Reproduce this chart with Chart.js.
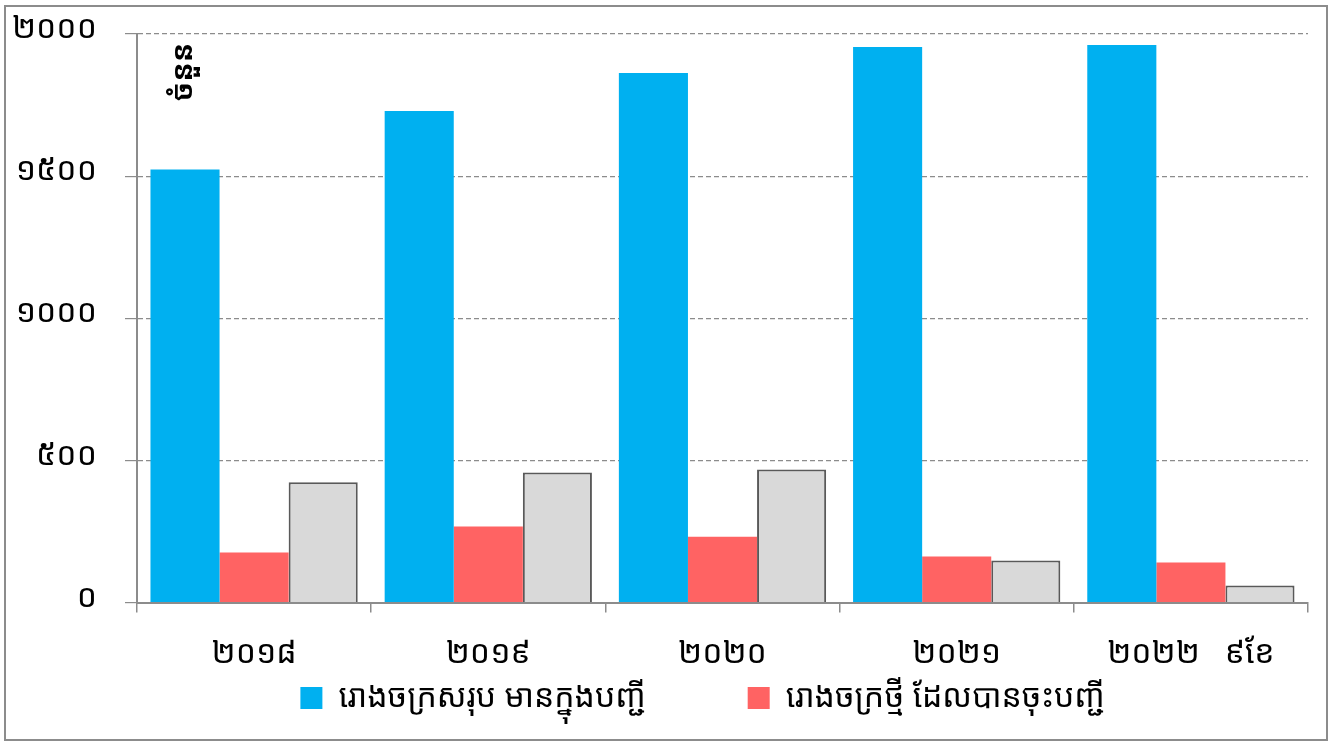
<!DOCTYPE html>
<html lang="km">
<head>
    <meta charset="UTF-8">
    <title>រោងចក្រ</title>
    <script src="https://cdn.jsdelivr.net/npm/chart.js"></script>
    <style>
        body { margin: 0; background: #fff; }
        .chart-container {
            position: relative;
            width: 1338px;
            height: 744px;
        }
        .frame {
            position: absolute;
            left: 4px; top: 5px; width: 1320px; height: 732px;
            border: 2px solid #8c8c8c;
            pointer-events: none;
        }
    </style>
</head>
<body>
    <div class="chart-container">
        <canvas id="factoryChart" width="1338" height="744"></canvas>
        <div class="frame"></div>
    </div>
    <script>
        const years = ['២០១៨', '២០១៩', '២០២០', '២០២១', '២០២២   ៩ខែ'];
        const totalRegistered = [1523, 1729, 1863, 1954, 1961];
        const newRegistered = [176, 268, 232, 162, 141];
        const thirdSeries = [423, 458, 468, 148, 60];
        const khmerDigits = ['០', '១', '២', '៣', '៤', '៥', '៦', '៧', '៨', '៩'];

        const KH_FONT = "'Khmer OS', 'Noto Sans Khmer', 'Noto Sans', sans-serif";

        function toKhmer(n) {
            return String(n).split('').map(d => khmerDigits[+d] ?? d).join('');
        }

        // vertical "ចំនួន" label in the top-left of the plot
        const unitLabel = {
            id: 'unitLabel',
            afterDraw(chart) {
                const c = chart.ctx;
                c.save();
                c.translate(chart.chartArea.left + 47, chart.chartArea.top + 38);
                c.rotate(-Math.PI / 2);
                c.font = "bold 29px " + KH_FONT;
                c.fillStyle = '#000';
                c.textAlign = 'center';
                c.textBaseline = 'middle';
                c.fillText('ចំនួន', 0, 0);
                c.restore();
            }
        };

        const ctx = document.getElementById('factoryChart').getContext('2d');
        new Chart(ctx, {
            type: 'bar',
            data: {
                labels: years,
                datasets: [{
                    label: 'រោងចក្រសរុប មានក្នុងបញ្ជី\u2003\u2003\u2003',
                    data: totalRegistered,
                    backgroundColor: '#00b0f0',
                    borderWidth: 0
                }, {
                    label: 'រោងចក្រថ្មី ដែលបានចុះបញ្ជី\u2003\u2003\u2003\u2003\u2003\u2003\u2006',
                    data: newRegistered,
                    backgroundColor: '#ff6363',
                    borderWidth: 0
                }, {
                    label: 'other',
                    data: thirdSeries,
                    backgroundColor: '#d9d9d9',
                    borderColor: '#595959',
                    borderWidth: 2
                }]
            },
            options: {
                responsive: false,
                animation: false,
                layout: { padding: { left: 10, right: 30, top: 34, bottom: 20 } },
                datasets: {
                    bar: { barPercentage: 1, categoryPercentage: 0.885 }
                },
                plugins: {
                    tooltip: { enabled: false },
                    legend: {
                        position: 'bottom',
                        align: 'end',
                        labels: {
                            filter: item => item.datasetIndex < 2,
                            boxWidth: 22,
                            boxHeight: 22,
                            padding: 6,
                            color: '#000',
                            font: { size: 32, family: KH_FONT }
                        }
                    }
                },
                scales: {
                    x: {
                        afterFit: scale => { scale.height -= 19; },
                        grid: {
                            drawOnChartArea: false,
                            color: '#8c8c8c',
                            tickLength: 10,
                            lineWidth: 1.5
                        },
                        border: { color: '#8c8c8c', width: 2 },
                        ticks: {
                            color: '#000',
                            padding: 22,
                            maxRotation: 0,
                            font: { size: 32, family: KH_FONT }
                        }
                    },
                    y: {
                        min: 0,
                        max: 2000,
                        afterFit: scale => {
                            scale.width = 127;
                            scale.paddingTop = 0;
                        },
                        grid: {
                            color: '#8c8c8c',
                            tickBorderDash: [],
                            tickLength: 12,
                            lineWidth: 1.2
                        },
                        border: { color: '#8c8c8c', width: 2, dash: [5, 3] },
                        ticks: {
                            stepSize: 500,
                            color: '#000',
                            padding: 28,
                            labelOffset: -5,
                            font: { size: 32, family: KH_FONT },
                            callback: v => toKhmer(v)
                        }
                    }
                }
            },
            plugins: [unitLabel]
        });
    </script>
</body>
</html>
